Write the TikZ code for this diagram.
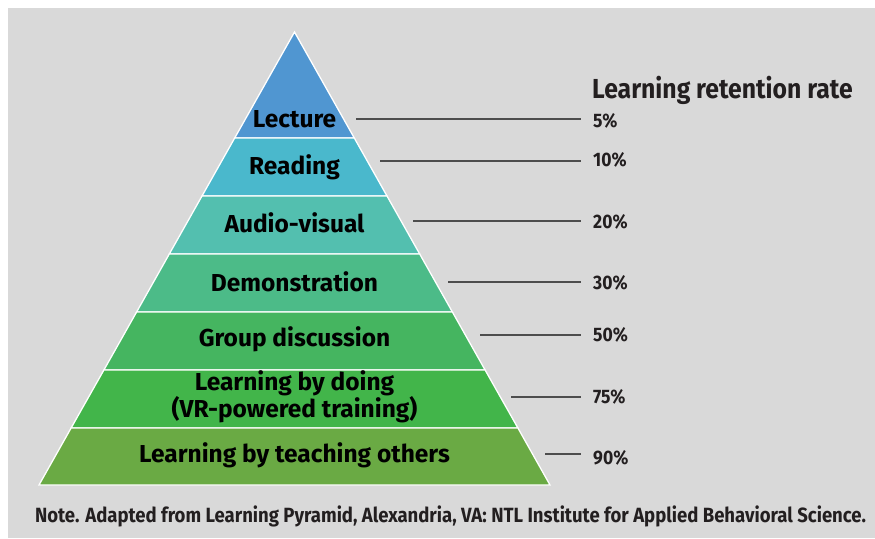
\documentclass[tikz,border=0pt]{standalone}
\usepackage{fontspec}
\setmainfont{Fira Sans}
\newfontfamily\condfont[FakeStretch=0.9]{Fira Sans}
\definecolor{bggray}{HTML}{D9D9D9}
\definecolor{cLecture}{HTML}{5096D1}
\definecolor{cReading}{HTML}{4AB8CC}
\definecolor{cAudio}{HTML}{53BFAF}
\definecolor{cDemo}{HTML}{4CBB88}
\definecolor{cGroup}{HTML}{45B560}
\definecolor{cDoing}{HTML}{42B54A}
\definecolor{cTeach}{HTML}{6AAA44}
\definecolor{txtdark}{HTML}{231F20}
\definecolor{leader}{HTML}{4D4D4D}
\tikzset{
  band/.style={draw=white, line width=1.3pt, line join=miter},
  blabel/.style={font=\bfseries\fontsize{24.5}{25}\selectfont, text=black, inner sep=0pt, align=center},
  pct/.style={font=\condfont\bfseries\fontsize{19.5}{22}\selectfont, text=txtdark, inner sep=0pt, anchor=west},
  leaderline/.style={draw=leader, line width=1.2pt},
}
\begin{document}
\begin{tikzpicture}[x=1pt,y=-1pt]
\useasboundingbox (0,0) rectangle (875,538);
\fill[white] (0,0) rectangle (875,538);
\fill[bggray] (8,8) rectangle (875,538);
% bands
\filldraw[band, fill=cLecture] (294.5,32) -- (354.3,138) -- (234.7,138) -- cycle;
\filldraw[band, fill=cReading] (234.7,138) -- (354.3,138) -- (387.0,196) -- (202.0,196) -- cycle;
\filldraw[band, fill=cAudio] (202.0,196) -- (387.0,196) -- (419.7,254) -- (169.3,254) -- cycle;
\filldraw[band, fill=cDemo] (169.3,254) -- (419.7,254) -- (452.4,312) -- (136.6,312) -- cycle;
\filldraw[band, fill=cGroup] (136.6,312) -- (452.4,312) -- (485.1,370) -- (103.9,370) -- cycle;
\filldraw[band, fill=cDoing] (103.9,370) -- (485.1,370) -- (517.9,428) -- (71.1,428) -- cycle;
\filldraw[band, fill=cTeach] (71.1,428) -- (517.9,428) -- (550,485) -- (39,485) -- cycle;
% labels
\node[blabel] (lecture) at (294.5,119) {Lecture};
\node[blabel] (reading) at (294.5,167) {Reading};
\node[blabel] (audio) at (294.5,223) {Audio-visual};
\node[blabel] (demo) at (294.5,282) {Demonstration};
\node[blabel] (group) at (294.5,339) {Group discussion};
\node[blabel] (doing) at (294.5,397) {Learning by doing\\(VR-powered training)};
\node[blabel] (teach) at (294.5,455) {Learning by teaching others};
% title
\node[font=\condfont\bfseries\fontsize{27.5}{30}\selectfont, text=txtdark, inner sep=0pt, anchor=west] (title) at (592,90) {Learning retention rate};
% percentages
\node[pct] (p5) at (593,121) {5\%};
\node[pct] (p10) at (593,160) {10\%};
\node[pct] (p20) at (593,222) {20\%};
\node[pct] (p30) at (593,283) {30\%};
\node[pct] (p50) at (593,335) {50\%};
\node[pct] (p75) at (593,397) {75\%};
\node[pct] (p90) at (593,458) {90\%};
% leader start points
\coordinate (l5) at (356,119);
\coordinate (l10) at (380,161);
\coordinate (l20) at (413,221);
\coordinate (l30) at (448,282);
\coordinate (l50) at (480,335);
\coordinate (l75) at (511,397);
\coordinate (l90) at (545,454);
\foreach \a/\b in {l5/p5,l10/p10,l20/p20,l30/p30,l50/p50,l75/p75,l90/p90}{
  \draw[leaderline, shorten >=12pt] (\a) -- (\a -| \b.west);
}
% note
\node[font=\condfont\bfseries\fontsize{20.6}{24}\selectfont, text=txtdark, inner sep=0pt] (note) at (450.5,516) {Note. Adapted from Learning Pyramid, Alexandria, VA: NTL Institute for Applied Behavioral Science.};
\end{tikzpicture}
\end{document}
